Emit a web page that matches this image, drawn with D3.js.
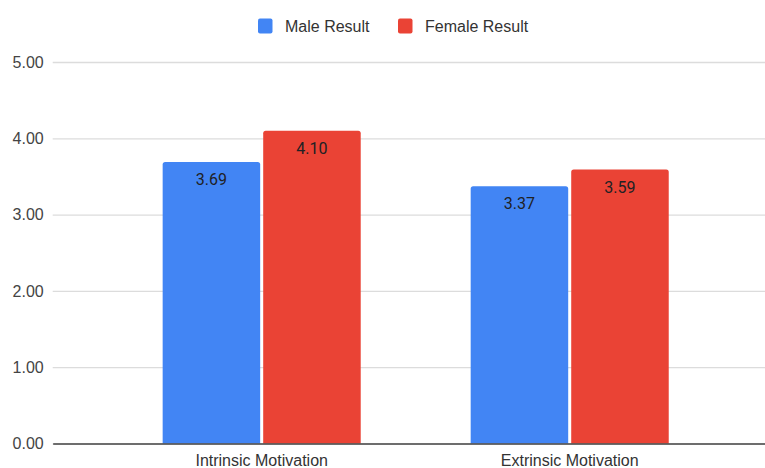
<!DOCTYPE html>
<html>
<head>
<meta charset="utf-8">
<script src="https://cdn.jsdelivr.net/npm/d3@7"></script>
<style>
  html, body { margin: 0; padding: 0; background: #fff; }
  svg { display: block; }
</style>
</head>
<body>
<svg id="chart" width="765" height="468"></svg>
<script>
// Motivation scores by gender
const categories = ["Intrinsic Motivation", "Extrinsic Motivation"];
const seriesNames = ["Male Result", "Female Result"];
const maleValues = [3.69, 3.37];
const femaleValues = [4.10, 3.59];
const yTicks = [0, 1, 2, 3, 4, 5];
const seriesColors = ["#4285F4", "#EA4335"];

const seriesValues = [maleValues, femaleValues];
const rows = categories.map((c, i) => ({
  category: c,
  values: seriesNames.map((s, j) => ({ series: s, idx: j, value: seriesValues[j][i] }))
}));

const svg = d3.select("#chart");
const axisFont = "'Liberation Sans', Arial, sans-serif";
const labelFont = "Roboto, 'Liberation Sans', sans-serif";

const plot = { left: 52.7, right: 778.7, top: 62, bottom: 443.5 };

const x0 = d3.scaleBand()
  .domain(categories)
  .range([plot.left, plot.right])
  .paddingInner(0.357)
  .paddingOuter(0.357);

const x1 = d3.scaleBand()
  .domain(seriesNames)
  .range([0, x0.bandwidth()])
  .paddingInner(0.03);

const y = d3.scaleLinear().domain([0, 5]).range([plot.bottom, plot.top]);

// Gridlines and y-axis labels
const yAxis = d3.axisLeft(y)
  .tickValues(yTicks)
  .tickFormat(d3.format(".2f"))
  .tickSize(-(plot.right - plot.left))
  .tickPadding(9);

const yg = svg.append("g")
  .attr("transform", `translate(${plot.left},0)`)
  .call(yAxis);
yg.select(".domain").remove();
yg.selectAll(".tick line").attr("stroke", "#dcdcdc").attr("stroke-width", 1.3);
yg.selectAll(".tick text")
  .attr("fill", "#444")
  .style("font-family", axisFont)
  .style("font-size", "16px");

// Bars with slightly rounded tops
function barPath(x, yTop, w, yBase, r) {
  return `M${x},${yBase}V${yTop + r}Q${x},${yTop} ${x + r},${yTop}` +
         `H${x + w - r}Q${x + w},${yTop} ${x + w},${yTop + r}V${yBase}Z`;
}

const groups = svg.append("g").selectAll("g")
  .data(rows)
  .join("g")
  .attr("transform", d => `translate(${x0(d.category)},0)`);

groups.selectAll("path")
  .data(d => d.values)
  .join("path")
  .attr("d", d => barPath(x1(d.series), y(d.value), x1.bandwidth(), y(0), 2.5))
  .attr("fill", d => seriesColors[d.idx]);

groups.selectAll("text")
  .data(d => d.values)
  .join("text")
  .attr("x", d => x1(d.series) + x1.bandwidth() / 2)
  .attr("y", d => y(d.value) + 23)
  .attr("text-anchor", "middle")
  .attr("fill", "#202124")
  .style("font-family", labelFont)
  .style("font-size", "16px")
  .text(d => d3.format(".2f")(d.value));

// X axis baseline and category labels
const xAxis = d3.axisBottom(x0).tickSize(0).tickPadding(11);
const xg = svg.append("g")
  .attr("transform", `translate(0,${plot.bottom})`)
  .call(xAxis);
xg.select(".domain").attr("stroke", "#444").attr("stroke-width", 1.5);
xg.selectAll(".tick text")
  .attr("fill", "#333")
  .style("font-family", axisFont)
  .style("font-size", "16px");

// Legend
const legend = svg.append("g").attr("transform", "translate(0,26)");
const legendItems = [
  { name: seriesNames[0], color: seriesColors[0], x: 258 },
  { name: seriesNames[1], color: seriesColors[1], x: 398 }
];
const li = legend.selectAll("g").data(legendItems).join("g")
  .attr("transform", d => `translate(${d.x},0)`);
li.append("rect")
  .attr("x", 0).attr("y", -7.5)
  .attr("width", 14.5).attr("height", 15)
  .attr("rx", 2)
  .attr("fill", d => d.color);
li.append("text")
  .attr("x", 27).attr("y", 0)
  .attr("dy", "0.35em")
  .attr("fill", "#333")
  .style("font-family", axisFont)
  .style("font-size", "16px")
  .text(d => d.name);
</script>
</body>
</html>
